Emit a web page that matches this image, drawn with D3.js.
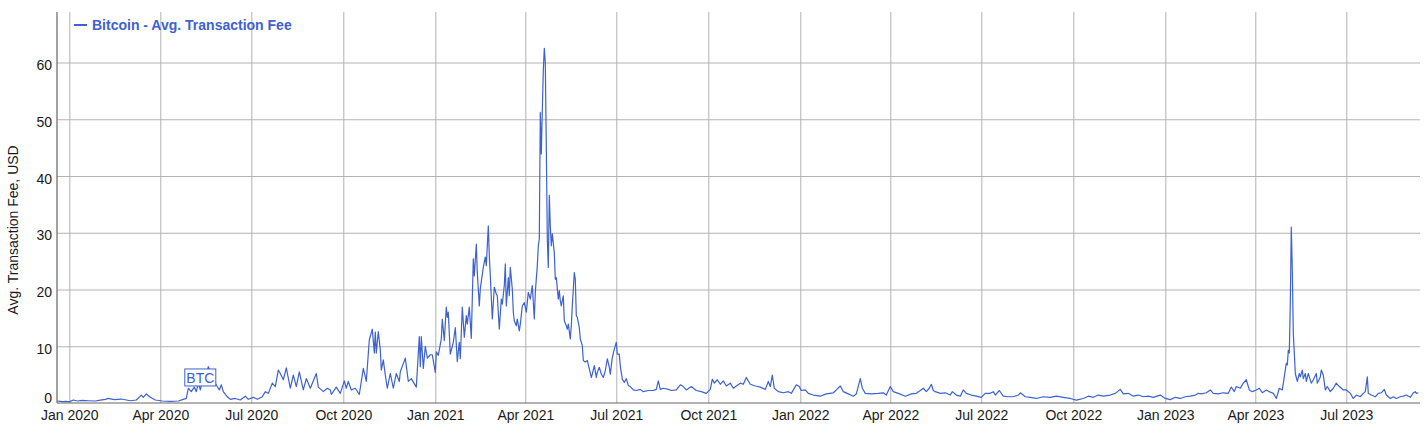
<!DOCTYPE html>
<html><head><meta charset="utf-8">
<script src="https://cdn.jsdelivr.net/npm/d3@7"></script>
<style>
body{margin:0;background:#fff;}
svg{display:block;font-family:"Liberation Sans",Arial,Helvetica,sans-serif;}
</style>
</head><body>
<svg id="chart" width="1426" height="437"></svg>
<script>
// ---------------- DATA ----------------
const seriesName = "Bitcoin - Avg. Transaction Fee";
const yTitle = "Avg. Transaction Fee, USD";

const fees2019 = [["2019-12-20",0.35],["2019-12-23",0.3],["2019-12-26",0.25],["2019-12-29",0.3]];

const fees2020 = [
["2020-01-01",0.2],["2020-01-05",0.53],["2020-01-09",0.35],["2020-01-14",0.45],["2020-01-20",0.4],["2020-01-27",0.35],
["2020-02-01",0.5],["2020-02-06",0.65],["2020-02-09",0.82],["2020-02-15",0.6],["2020-02-22",0.7],
["2020-03-02",0.4],["2020-03-08",0.53],["2020-03-13",1.4],["2020-03-15",1.0],["2020-03-18",1.6],["2020-03-22",1.0],["2020-03-27",0.53],
["2020-04-03",0.35],["2020-04-11",0.3],["2020-04-19",0.35],["2020-04-24",0.65],["2020-04-27",0.82],["2020-04-29",2.6],
["2020-05-02",2.0],["2020-05-05",2.8],["2020-05-07",2.0],["2020-05-09",3.5],["2020-05-11",2.3],["2020-05-14",4.5],["2020-05-17",5.0],
["2020-05-19",6.4],["2020-05-22",4.8],["2020-05-25",3.8],["2020-05-28",2.9],["2020-05-30",2.3],
["2020-06-01",3.2],["2020-06-03",2.0],["2020-06-07",1.1],["2020-06-10",0.65],["2020-06-15",0.8],["2020-06-20",0.53],["2020-06-25",1.2],["2020-06-28",0.65],
["2020-07-03",1.0],["2020-07-07",0.65],["2020-07-12",1.1],["2020-07-15",2.0],["2020-07-18",1.7],["2020-07-22",3.5],["2020-07-25",2.9],["2020-07-28",5.8],["2020-07-30",5.2],
["2020-08-02",4.1],["2020-08-05",6.2],["2020-08-09",2.6],["2020-08-12",4.9],["2020-08-15",2.9],["2020-08-18",5.5],["2020-08-22",2.3],["2020-08-25",4.3],["2020-08-29",2.6],
["2020-09-04",5.2],["2020-09-06",2.8],["2020-09-11",2.0],["2020-09-15",2.6],["2020-09-18",2.3],["2020-09-19",1.5],["2020-09-24",2.8],["2020-09-28",1.7],
["2020-10-02",3.9],["2020-10-04",2.6],["2020-10-06",3.8],["2020-10-09",2.3],["2020-10-13",2.6],["2020-10-17",1.5],["2020-10-21",6.1],["2020-10-24",3.8],["2020-10-27",11.1],["2020-10-30",13.0],
["2020-11-01",8.8],["2020-11-02",12.5],["2020-11-03",8.8],["2020-11-05",12.6],["2020-11-07",9.4],["2020-11-08",5.8],["2020-11-10",7.6],["2020-11-12",4.9],["2020-11-14",2.6],
["2020-11-17",5.2],["2020-11-20",2.6],["2020-11-23",5.2],["2020-11-26",3.8],["2020-11-27",5.5],
["2020-12-02",7.9],["2020-12-05",3.8],["2020-12-08",4.3],["2020-12-13",2.8],["2020-12-16",11.7],["2020-12-17",6.4],["2020-12-18",11.7],["2020-12-20",6.1],
["2020-12-22",10.0],["2020-12-24",7.9],["2020-12-27",8.5],["2020-12-29",8.5]
];

const fees2021 = [
["2021-01-01",5.4],["2021-01-02",9.0],["2021-01-04",8.4],["2021-01-07",11.3],["2021-01-08",14.8],["2021-01-10",11.0],["2021-01-12",16.9],["2021-01-13",15.1],
["2021-01-14",16.0],["2021-01-16",8.6],["2021-01-19",10.7],["2021-01-21",13.3],["2021-01-23",7.3],["2021-01-25",10.7],["2021-01-26",7.8],["2021-01-28",16.9],["2021-01-30",11.6],
["2021-02-01",15.4],["2021-02-02",13.9],["2021-02-04",16.9],["2021-02-06",11.4],["2021-02-08",25.4],["2021-02-09",22.4],["2021-02-11",28.0],["2021-02-12",23.0],
["2021-02-14",17.1],["2021-02-15",20.1],["2021-02-18",23.9],["2021-02-20",25.7],["2021-02-21",24.2],["2021-02-23",31.2],["2021-02-24",26.0],["2021-02-25",22.4],["2021-02-27",14.8],
["2021-03-01",20.4],["2021-03-03",19.2],["2021-03-04",18.9],["2021-03-06",13.0],["2021-03-08",18.3],["2021-03-09",17.4],["2021-03-11",20.7],["2021-03-12",24.5],
["2021-03-13",17.1],["2021-03-15",22.1],["2021-03-16",18.9],["2021-03-17",23.9],["2021-03-19",20.1],["2021-03-20",16.0],["2021-03-21",14.5],["2021-03-23",13.6],
["2021-03-24",14.8],["2021-03-26",12.7],["2021-03-27",13.9],["2021-03-29",17.1],["2021-03-31",17.7],
["2021-04-02",16.0],["2021-04-04",19.5],["2021-04-06",18.3],["2021-04-08",20.7],["2021-04-10",14.8],["2021-04-11",19.5],["2021-04-13",24.2],["2021-04-14",27.7],
["2021-04-15",28.9],["2021-04-16",51.2],["2021-04-17",43.9],["2021-04-18",51.5],["2021-04-19",58.5],["2021-04-20",62.5],["2021-04-21",60.0],["2021-04-22",45.0],
["2021-04-23",28.9],["2021-04-24",23.9],["2021-04-25",36.6],["2021-04-26",31.2],["2021-04-27",27.7],["2021-04-28",29.8],["2021-04-30",26.5],
["2021-05-01",21.8],["2021-05-02",22.1],["2021-05-04",18.3],["2021-05-05",19.8],["2021-05-06",18.0],["2021-05-07",17.1],["2021-05-09",18.9],["2021-05-10",14.5],
["2021-05-12",13.6],["2021-05-13",13.0],["2021-05-14",13.9],["2021-05-16",11.3],["2021-05-17",13.6],["2021-05-18",17.1],["2021-05-20",23.0],["2021-05-21",21.8],
["2021-05-22",15.4],["2021-05-23",15.1],["2021-05-25",13.3],["2021-05-26",11.3],["2021-05-28",10.1],["2021-05-29",7.5],["2021-05-31",7.2],
["2021-06-02",7.5],["2021-06-04",6.0],["2021-06-06",4.5],["2021-06-07",5.1],["2021-06-09",6.6],["2021-06-11",4.5],["2021-06-12",5.4],["2021-06-14",6.3],
["2021-06-16",5.1],["2021-06-18",4.5],["2021-06-20",5.7],["2021-06-22",7.8],["2021-06-24",6.3],["2021-06-25",5.1],["2021-06-27",8.0],["2021-06-29",9.5],
["2021-07-01",10.7],["2021-07-02",8.6],["2021-07-04",8.6],["2021-07-05",6.5],["2021-07-07",4.2],["2021-07-09",3.6],["2021-07-11",4.3],["2021-07-13",3.1],
["2021-07-15",2.9],["2021-07-18",2.3],["2021-07-21",2.2],["2021-07-25",2.4],["2021-07-28",2.0],
["2021-08-02",2.2],["2021-08-07",2.2],["2021-08-10",2.4],["2021-08-12",3.9],["2021-08-14",2.4],["2021-08-17",2.6],["2021-08-22",2.4],["2021-08-25",2.2],["2021-08-30",2.3],
["2021-09-03",3.2],["2021-09-06",2.9],["2021-09-09",2.3],["2021-09-14",2.9],["2021-09-19",2.2],["2021-09-24",2.0],["2021-09-29",1.7],
["2021-10-03",2.4],["2021-10-05",4.2],["2021-10-07",3.5],["2021-10-10",4.1],["2021-10-13",3.3],["2021-10-16",3.9],["2021-10-19",3.0],["2021-10-23",3.5],["2021-10-26",2.6],["2021-10-29",3.0],
["2021-11-02",3.5],["2021-11-05",3.3],["2021-11-08",4.5],["2021-11-12",3.3],["2021-11-17",3.0],["2021-11-22",2.8],["2021-11-27",2.4],["2021-11-30",3.8],
["2021-12-02",2.9],["2021-12-04",4.9],["2021-12-06",2.6],["2021-12-10",2.0],["2021-12-15",1.8],["2021-12-20",2.0],["2021-12-23",1.7],["2021-12-28",3.2],["2021-12-31",2.9]
];

const fees2022 = [
["2022-01-02",2.2],["2022-01-06",2.3],["2022-01-09",1.7],["2022-01-14",1.4],["2022-01-21",1.2],["2022-01-27",1.6],
["2022-02-03",1.8],["2022-02-06",2.3],["2022-02-10",3.0],["2022-02-13",2.0],["2022-02-18",1.6],["2022-02-23",1.2],["2022-02-26",1.6],
["2022-03-02",4.3],["2022-03-04",2.6],["2022-03-07",1.7],["2022-03-13",1.6],["2022-03-20",1.7],["2022-03-25",1.8],["2022-03-28",1.4],
["2022-04-01",2.9],["2022-04-04",2.0],["2022-04-09",1.7],["2022-04-16",1.2],["2022-04-22",1.6],["2022-04-27",1.7],
["2022-05-01",2.2],["2022-05-04",2.6],["2022-05-07",2.0],["2022-05-10",2.6],["2022-05-12",3.3],["2022-05-14",2.2],["2022-05-16",2.0],["2022-05-21",1.7],["2022-05-26",1.8],["2022-05-31",1.4],
["2022-06-02",2.0],["2022-06-06",1.4],["2022-06-10",1.2],["2022-06-13",2.3],["2022-06-16",1.7],["2022-06-21",1.4],["2022-06-26",1.2],
["2022-07-01",1.0],["2022-07-05",1.7],["2022-07-10",1.7],["2022-07-13",2.0],["2022-07-15",1.4],["2022-07-19",2.2],["2022-07-23",1.2],["2022-07-28",1.1],
["2022-08-02",1.1],["2022-08-07",1.4],["2022-08-09",1.8],["2022-08-14",1.1],["2022-08-19",1.0],["2022-08-25",0.8],
["2022-09-01",1.1],["2022-09-08",1.0],["2022-09-14",1.2],["2022-09-21",1.0],["2022-09-28",0.8],
["2022-10-04",0.5],["2022-10-11",0.8],["2022-10-16",1.2],["2022-10-21",1.0],["2022-10-26",1.4],["2022-10-31",1.2],
["2022-11-07",1.4],["2022-11-12",1.7],["2022-11-17",2.4],["2022-11-20",1.6],["2022-11-25",1.7],["2022-11-30",1.2],
["2022-12-05",1.4],["2022-12-10",1.1],["2022-12-15",1.2],["2022-12-20",1.0],["2022-12-27",1.4]
];

const fees2023 = [
["2023-01-01",0.8],["2023-01-06",0.6],["2023-01-11",1.0],["2023-01-16",0.8],["2023-01-21",1.1],["2023-01-26",1.2],["2023-01-31",1.4],
["2023-02-03",1.7],["2023-02-06",1.6],["2023-02-11",1.8],["2023-02-15",2.3],["2023-02-18",1.7],["2023-02-23",1.6],["2023-02-28",1.8],
["2023-03-05",1.7],["2023-03-08",2.8],["2023-03-11",2.0],["2023-03-13",2.9],["2023-03-17",2.6],["2023-03-20",3.5],["2023-03-23",4.1],["2023-03-26",2.3],["2023-03-29",2.0],
["2023-04-02",2.3],["2023-04-05",2.6],["2023-04-08",1.8],["2023-04-12",2.3],["2023-04-15",2.0],["2023-04-19",1.7],["2023-04-22",0.8],["2023-04-25",2.6],["2023-04-28",2.3],
["2023-05-01",5.8],["2023-05-02",7.0],["2023-05-03",6.7],["2023-05-04",9.3],["2023-05-05",8.8],["2023-05-06",17.6],["2023-05-07",31.0],["2023-05-08",23.4],
["2023-05-09",12.3],["2023-05-10",8.8],["2023-05-11",5.2],["2023-05-13",3.8],["2023-05-15",5.2],["2023-05-16",4.6],["2023-05-18",5.8],["2023-05-19",4.3],
["2023-05-21",5.2],["2023-05-22",3.8],["2023-05-24",5.2],["2023-05-25",4.6],["2023-05-27",3.5],["2023-05-29",4.1],
["2023-06-01",5.2],["2023-06-02",3.5],["2023-06-05",4.6],["2023-06-06",5.8],["2023-06-08",4.9],["2023-06-10",2.3],["2023-06-12",2.9],["2023-06-15",2.0],
["2023-06-18",2.6],["2023-06-21",3.5],["2023-06-24",2.9],["2023-06-28",2.3],
["2023-07-01",2.3],["2023-07-05",1.7],["2023-07-08",0.8],["2023-07-11",1.4],["2023-07-15",1.1],["2023-07-18",1.7],["2023-07-20",2.0],["2023-07-22",4.6],
["2023-07-23",1.7],["2023-07-26",1.4],["2023-07-30",1.1],
["2023-08-02",1.7],["2023-08-05",1.8],["2023-08-08",2.4],["2023-08-10",1.4],["2023-08-14",0.8],["2023-08-17",1.1],["2023-08-20",0.8],["2023-08-24",1.1],
["2023-08-27",1.2],["2023-08-30",1.4],
["2023-09-03",1.0],["2023-09-06",1.8],["2023-09-08",2.0],["2023-09-09",1.7],["2023-09-11",1.8]
];

const yTicks = [0, 10, 20, 30, 40, 50, 60];
const xTickDates = ["2020-01-01","2020-04-01","2020-07-01","2020-10-01","2021-01-01","2021-04-01","2021-07-01","2021-10-01",
                    "2022-01-01","2022-04-01","2022-07-01","2022-10-01","2023-01-01","2023-04-01","2023-07-01"];
const xTickLabels = ["Jan 2020","Apr 2020","Jul 2020","Oct 2020","Jan 2021","Apr 2021","Jul 2021","Oct 2021",
                     "Jan 2022","Apr 2022","Jul 2022","Oct 2022","Jan 2023","Apr 2023","Jul 2023"];
const annotationDates = ["2020-05-11"];
const annotationLabels = ["BTC"];
const annotationLevels = [4.5];

// ---------------- DRAW ----------------
(function draw() {
  const W = 1426, H = 437;
  const mLeft = 57, mRight = 1420, mTop = 12, mBottom = 403;
  const blue = "#3d62d0";
  const parse = d3.utcParse("%Y-%m-%d");

  const data = [...fees2019, ...fees2020, ...fees2021, ...fees2022, ...fees2023]
    .map(([d, v]) => ({date: parse(d), v}));

  const x = d3.scaleUtc()
    .domain([new Date(Date.UTC(2019, 11, 19, 16, 48)), new Date(Date.UTC(2023, 8, 12, 16, 48))])
    .range([mLeft, mRight]);
  const y = d3.scaleLinear().domain([0, 68.9]).range([mBottom, mTop]);

  const svg = d3.select("#chart");
  svg.append("rect").attr("width", W).attr("height", H).attr("fill", "#fff");

  const tickDates = xTickDates.map(parse);
  // vertical grid
  svg.append("g")
    .attr("transform", `translate(0,${mBottom})`)
    .call(d3.axisBottom(x).tickValues(tickDates).tickSize(-(mBottom - mTop)).tickFormat(""))
    .call(g => g.select(".domain").remove())
    .call(g => g.selectAll(".tick line").attr("stroke", "#b3b3b3").attr("stroke-width", 1));

  // horizontal grid
  svg.append("g")
    .attr("transform", `translate(${mLeft},0)`)
    .call(d3.axisLeft(y).tickValues(yTicks.filter(t => t > 0)).tickSize(-(mRight - mLeft)).tickFormat(""))
    .call(g => g.select(".domain").remove())
    .call(g => g.selectAll(".tick line").attr("stroke", "#b3b3b3").attr("stroke-width", 1));

  // x axis labels
  const xAxis = svg.append("g")
    .attr("transform", `translate(0,${mBottom})`)
    .call(d3.axisBottom(x).tickValues(tickDates).tickSize(0).tickPadding(7)
          .tickFormat((d, i) => xTickLabels[i]));
  xAxis.select(".domain").remove();
  xAxis.selectAll("text").attr("font-size", 14).attr("fill", "#1a1a1a")
    .attr("font-family", '"Liberation Sans",Arial,sans-serif');

  // y axis labels
  const yAxis = svg.append("g")
    .attr("transform", `translate(${mLeft},0)`)
    .call(d3.axisLeft(y).tickValues(yTicks).tickSize(0).tickPadding(5).tickFormat(d3.format("d")));
  yAxis.select(".domain").remove();
  yAxis.selectAll("text").attr("font-size", 14).attr("fill", "#1a1a1a")
    .attr("font-family", '"Liberation Sans",Arial,sans-serif')
    .attr("dy", d => d === 0 ? "-0.05em" : "0.5em");

  // axis lines
  svg.append("line").attr("x1", mLeft).attr("x2", mLeft).attr("y1", mTop).attr("y2", mBottom)
    .attr("stroke", "#666").attr("stroke-width", 1.2);
  svg.append("line").attr("x1", mLeft).attr("x2", mRight).attr("y1", mBottom).attr("y2", mBottom)
    .attr("stroke", "#666").attr("stroke-width", 1.2);

  // y title
  svg.append("text")
    .attr("transform", `translate(18,230) rotate(-90)`)
    .attr("text-anchor", "middle")
    .attr("font-size", 14).attr("fill", "#1a1a1a")
    .text(yTitle);

  // line
  const line = d3.line().x(d => x(d.date)).y(d => y(d.v));
  svg.append("path").datum(data)
    .attr("fill", "none").attr("stroke", blue).attr("stroke-width", 1.2)
    .attr("stroke-linejoin", "round")
    .attr("d", line);

  // annotation
  annotationDates.forEach((d, i) => {
    const cx = x(parse(d)), cy = y(annotationLevels[i]);
    const g = svg.append("g").attr("transform", `translate(${cx},${cy})`);
    g.append("rect").attr("x", -15.5).attr("y", -8.5).attr("width", 31).attr("height", 17)
      .attr("fill", "#fff").attr("stroke", blue).attr("stroke-width", 1);
    g.append("text").attr("text-anchor", "middle").attr("dy", "0.36em")
      .attr("font-size", 14).attr("fill", blue).text(annotationLabels[i]);
  });

  // legend
  const lg = svg.append("g").attr("transform", "translate(74,25)");
  lg.append("line").attr("x1", 0).attr("x2", 13).attr("y1", 0).attr("y2", 0)
    .attr("stroke", blue).attr("stroke-width", 2);
  lg.append("text").attr("x", 18).attr("dy", "0.35em")
    .attr("font-size", 14).attr("font-weight", "bold").attr("fill", blue).text(seriesName);
})();
</script>
</body></html>
